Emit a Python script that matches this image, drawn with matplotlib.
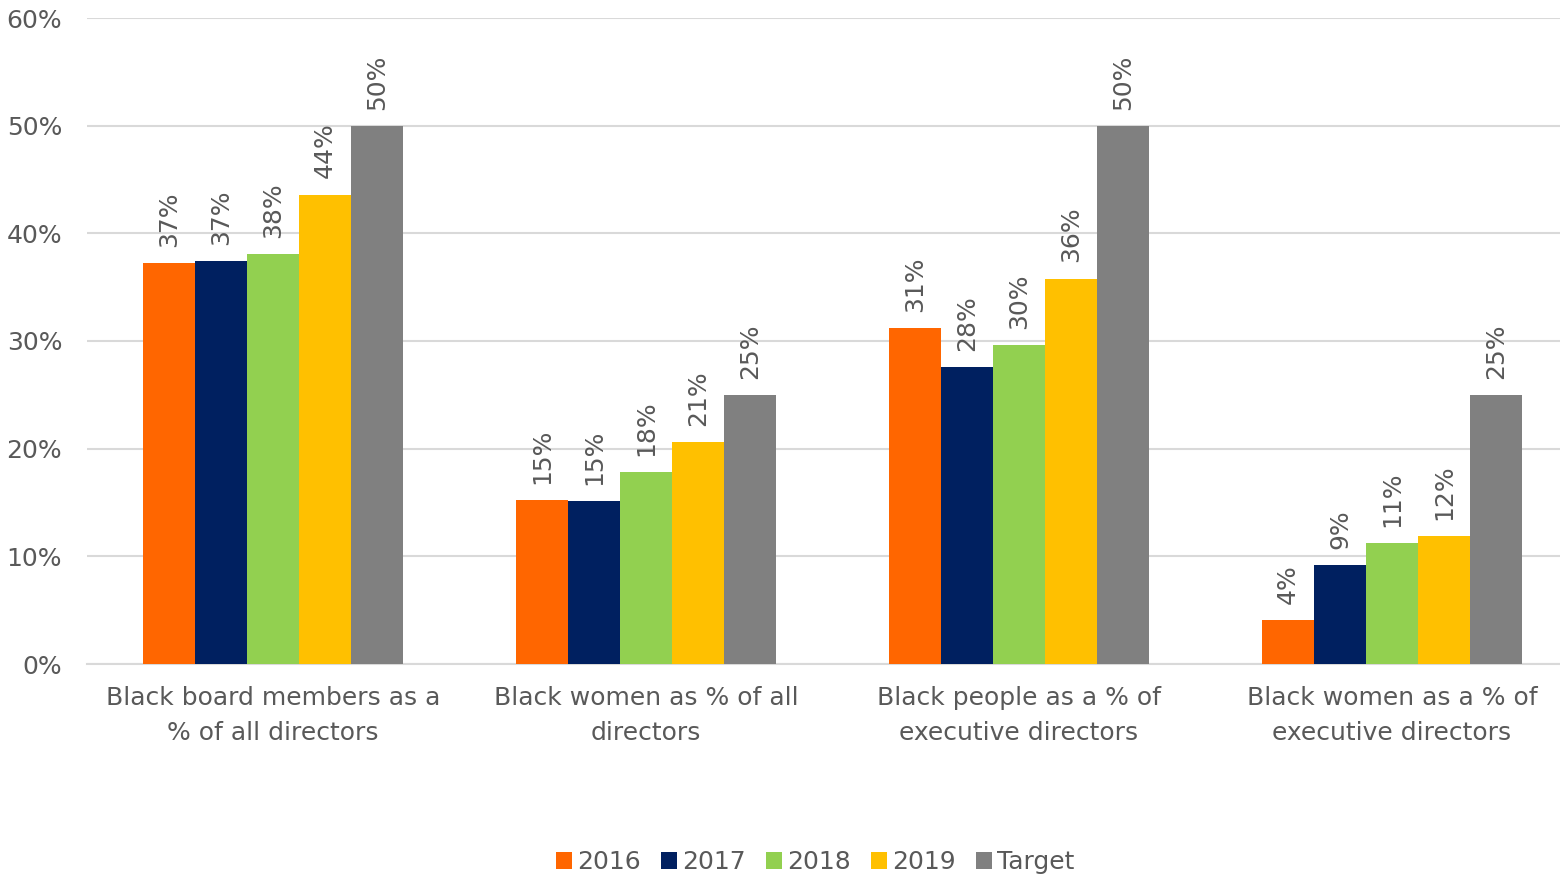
import matplotlib.pyplot as plt
import numpy as np

categories = ["Black board members as a\n% of all directors",
              "Black women as % of all\ndirectors",
              "Black people as a % of\nexecutive directors",
              "Black women as a % of\nexecutive directors"]
series = ["2016", "2017", "2018", "2019", "Target"]
v2016 = [37.2, 15.2, 31.2, 4.1]
v2017 = [37.4, 15.1, 27.6, 9.2]
v2018 = [38.1, 17.8, 29.6, 11.2]
v2019 = [43.6, 20.6, 35.8, 11.9]
target = [50, 25, 50, 25]
colors = ["#FF6600", "#002060", "#92D050", "#FFC000", "#808080"]

plt.rcParams['font.family'] = ['DejaVu Sans']
grey = "#595959"

fig = plt.figure(figsize=(15.6, 8.76), dpi=100)
ax = fig.add_axes([86.5 / 1560, 1 - 664 / 876, 1492 / 1560, (664 - 18) / 876])

x = np.arange(len(categories))
w = 0.1395
for i, vals in enumerate([v2016, v2017, v2018, v2019, target]):
    pos = x + (i - 2) * w
    ax.bar(pos, vals, width=w, color=colors[i], label=series[i], zorder=3)
    for p, v in zip(pos, vals):
        ax.text(p, v + 1.5, f"{v:.0f}%", rotation=90, ha="center", va="bottom",
                fontsize=18, color=grey)

ax.set_xlim(-0.5, 3.5)
ax.set_ylim(0, 60)
ax.set_yticks(range(0, 61, 10))
ax.set_yticklabels([f"{t}%" for t in range(0, 61, 10)])
ax.set_xticks(x)
ax.set_xticklabels(categories, linespacing=1.55)
ax.tick_params(axis="both", length=0, labelsize=18, labelcolor=grey)
ax.tick_params(axis="x", pad=16)
ax.tick_params(axis="y", pad=17.5)
ax.grid(axis="y", color="#D9D9D9", linewidth=1.5, zorder=0)
for s in ["top", "right", "left"]:
    ax.spines[s].set_visible(False)
ax.spines["bottom"].set_color("#D9D9D9")
ax.spines["bottom"].set_linewidth(1.5)

fig.legend(loc="center", bbox_to_anchor=(815 / 1560, 1 - 862 / 876), ncol=5,
           frameon=False, fontsize=18, labelcolor=grey, handlelength=0.65,
           handleheight=0.65, handletextpad=0.2, columnspacing=0.8)

fig.savefig("out.png")
